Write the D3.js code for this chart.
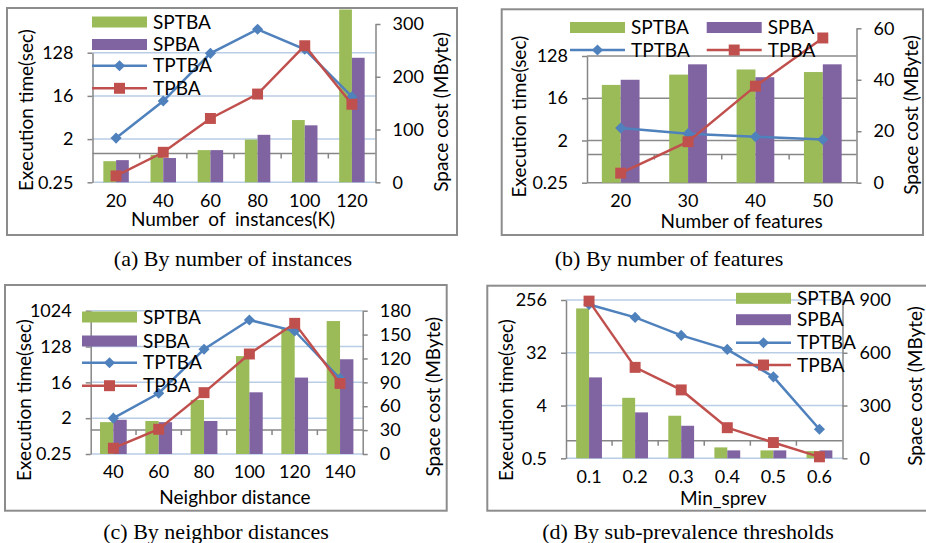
<!DOCTYPE html>
<html>
<head>
<meta charset="utf-8">
<script src="https://cdn.jsdelivr.net/npm/d3@7"></script>
<style>
  body { margin: 0; background: #fff; }
  svg { display: block; }
  text { font-family: Lato, "Open Sans", sans-serif; fill: #000; }
</style>
</head>
<body>
<svg id="fig" width="926" height="543"></svg>
<script>
const COLORS = {SPTBA: "#9bbb59", SPBA: "#8064a2", TPTBA: "#4f81bd", TPBA: "#c0504d"};
const BAR_KEYS = ["SPTBA", "SPBA"];
const LINE_KEYS = ["TPTBA", "TPBA"];

// (a) by number of instances
const instCats = ["20", "40", "60", "80", "100", "120"];
const instSPTBA = [40, 52, 61, 81, 118, 330];
const instSPBA = [42, 46, 61, 90, 108, 236];
const instTPTBA = [2.1, 12.5, 124, 395, 151, 15.4];
const instTPBA = [0.34, 1.06, 5.4, 17.5, 179, 10.7];

// (b) by number of features
const featCats = ["20", "30", "40", "50"];
const featSPTBA = [38, 42, 44, 43];
const featSPBA = [40, 46, 41, 46];
const featTPTBA = [3.7, 2.8, 2.4, 2.1];
const featTPBA = [0.4, 1.88, 29, 311];

// (c) by neighbor distances
const distCats = ["40", "60", "80", "100", "120", "140"];
const distSPTBA = [40, 41.5, 68, 123, 158, 167];
const distSPBA = [43, 40, 41.5, 77.5, 96, 119];
const distTPTBA = [2.0, 8.5, 109, 597, 315, 20];
const distTPBA = [0.35, 1.05, 8.8, 83, 492, 15];

// (d) by sub-prevalence thresholds
const prevCats = ["0.1", "0.2", "0.3", "0.4", "0.5", "0.6"];
const prevSPTBA = [852, 344, 242, 62, 45, 41];
const prevSPBA = [460, 261, 185, 45, 45, 45];
const prevTPTBA = [215, 129, 63.5, 36.5, 12.4, 1.57];
const prevTPBA = [245, 18, 7.4, 1.67, 0.93, 0.53];

// tick labels
const timeTicksA = [0.25, 2, 16, 128];
const timeTicksC = [0.25, 2, 16, 128, 1024];
const timeTicksD = [0.5, 4, 32, 256];
const spaceTicksA = [0, 100, 200, 300];
const spaceTicksB = [0, 20, 40, 60];
const spaceTicksC = [0, 30, 60, 90, 120, 150, 180];
const spaceTicksD = [0, 300, 600, 900];

const PANELS = [
  {
    id: "a", frame: [7, 8, 457, 235],
    plot: {left: 92.5, right: 375.5, bottom: 182.3, top: 9.5}, pad: 0.46,
    cats: instCats, bars: [instSPTBA, instSPBA], lines: [instTPTBA, instTPBA],
    leftTicks: timeTicksA, leftTopY: 52.7, rightTicks: spaceTicksA, rightTopY: 24,
    grid: "#b9cde5", tickY: 201,
    xTitle: "Number  of  instances(K)", xTitleAt: [233, 219.5],
    leftTitleAt: [26.5, 110], rightTitleAt: [441.5, 112],
    caption: "(a) By number of instances", captionAt: [233, 258],
    legend: [["SPTBA", 92, 22], ["SPBA", 92, 44.5], ["TPTBA", 92, 65.7], ["TPBA", 92, 88.3]]
  },
  {
    id: "b", frame: [501.7, 9.3, 923, 235],
    plot: {left: 587, right: 856.5, bottom: 182.7, top: 28}, pad: 0.44,
    cats: featCats, bars: [featSPTBA, featSPBA], lines: [featTPTBA, featTPBA],
    leftTicks: timeTicksA, leftTopY: 56, rightTicks: spaceTicksB, rightTopY: 28.3,
    grid: "#8a8a8a", tickY: 201,
    xTitle: "Number of features", xTitleAt: [741.7, 221],
    leftTitleAt: [519.5, 116.7], rightTitleAt: [911.7, 115],
    caption: "(b) By number of features", captionAt: [669, 258],
    legend: [["SPTBA", 570, 27.5], ["SPBA", 706.7, 27.5], ["TPTBA", 570, 50], ["TPBA", 706.7, 50]]
  },
  {
    id: "c", frame: [5, 285, 446.7, 510.7],
    plot: {left: 90.7, right: 362.7, bottom: 454, top: 305}, pad: 0.41,
    cats: distCats, bars: [distSPTBA, distSPBA], lines: [distTPTBA, distTPBA],
    leftTicks: timeTicksC, leftTopY: 310.7, rightTicks: spaceTicksC, rightTopY: 310.7,
    grid: "#b9cde5", tickY: 471.5,
    xTitle: "Neighbor distance", xTitleAt: [235, 497],
    leftTitleAt: [24.5, 400], rightTitleAt: [433.3, 396.7],
    caption: "(c) By neighbor distances", captionAt: [216, 531],
    legend: [["SPTBA", 82, 317], ["SPBA", 82, 341], ["TPTBA", 82, 362.7], ["TPBA", 82, 385.7]]
  },
  {
    id: "d", frame: [487.3, 285.7, 932, 510.7],
    plot: {left: 566, right: 842.5, bottom: 458.3, top: 295}, pad: 0.44,
    cats: prevCats, bars: [prevSPTBA, prevSPBA], lines: [prevTPTBA, prevTPBA],
    leftTicks: timeTicksD, leftTopY: 300, rightTicks: spaceTicksD, rightTopY: 300,
    grid: "#b9cde5", tickY: 476.5,
    xTitle: "Min_sprev", xTitleAt: [723.3, 498],
    leftTitleAt: [506.5, 400], rightTitleAt: [915, 386],
    caption: "(d) By sub-prevalence thresholds", captionAt: [688, 531],
    legend: [["SPTBA", 736, 298.3], ["SPBA", 736, 319.7], ["TPTBA", 736, 342.7], ["TPBA", 736, 365]]
  }
];

const AXIS_GRAY = "#868686";
const FONT = 19;
const TICK_FONT = 18;

function marker(key) {
  return key === "TPTBA"
    ? d3.symbol(d3.symbolSquare, 62)()
    : d3.symbol(d3.symbolSquare, 120)();
}
function markerRot(key) { return key === "TPTBA" ? " rotate(45)" : ""; }

function drawPanel(svg, p) {
  const P = p.plot;
  const g = svg.append("g");

  g.append("rect")
    .attr("x", p.frame[0]).attr("y", p.frame[1])
    .attr("width", p.frame[2] - p.frame[0]).attr("height", p.frame[3] - p.frame[1])
    .attr("fill", "none").attr("stroke", "#8c8c8c").attr("stroke-width", 2);

  const x0 = d3.scaleBand().domain(p.cats).range([P.left, P.right])
    .paddingInner(p.pad).paddingOuter(p.pad / 2);
  const x1 = d3.scaleBand().domain(BAR_KEYS).range([0, x0.bandwidth()]);
  const cx = c => x0(c) + x0.bandwidth() / 2;
  const yL = d3.scaleLog().base(2)
    .domain([p.leftTicks[0], p.leftTicks[p.leftTicks.length - 1]])
    .range([P.bottom, p.leftTopY]);
  const yR = d3.scaleLinear().domain([0, d3.max(p.rightTicks)]).range([P.bottom, p.rightTopY]);

  // gridlines on the time axis
  g.append("g").selectAll("line").data(p.leftTicks).join("line")
    .attr("x1", P.left).attr("x2", P.right)
    .attr("y1", d => yL(d)).attr("y2", d => yL(d))
    .attr("stroke", p.grid).attr("stroke-width", 1.5);

  // category axis crosses the log axis at 1
  const y1 = yL(1);
  g.append("line").attr("x1", P.left).attr("x2", P.right).attr("y1", y1).attr("y2", y1)
    .attr("stroke", AXIS_GRAY).attr("stroke-width", 1.5);
  const step = x0.step();
  g.append("g").selectAll("line").data(d3.range(1, p.cats.length)).join("line")
    .attr("x1", i => P.left + i * step).attr("x2", i => P.left + i * step)
    .attr("y1", y1).attr("y2", y1 + 5)
    .attr("stroke", AXIS_GRAY).attr("stroke-width", 1.5);

  // bars: space cost
  const clipId = "clip-" + p.id;
  svg.append("clipPath").attr("id", clipId).append("rect")
    .attr("x", P.left - 2).attr("y", P.top)
    .attr("width", P.right - P.left + 4).attr("height", P.bottom - P.top + 1);
  const barData = p.cats.flatMap((c, i) => BAR_KEYS.map((k, j) => ({cat: c, key: k, v: p.bars[j][i]})));
  g.append("g").attr("clip-path", `url(#${clipId})`)
    .selectAll("rect").data(barData).join("rect")
    .attr("x", d => x0(d.cat) + x1(d.key))
    .attr("width", x1.bandwidth())
    .attr("y", d => yR(d.v))
    .attr("height", d => P.bottom - yR(d.v))
    .attr("fill", d => COLORS[d.key]);

  // axes
  const left = g.append("g").attr("transform", `translate(${P.left},0)`)
    .call(d3.axisLeft(yL).tickValues(p.leftTicks).tickFormat(d => String(d))
      .tickSize(5).tickSizeOuter(0).tickPadding(14));
  const right = g.append("g").attr("transform", `translate(${P.right},0)`)
    .call(d3.axisRight(yR).tickValues(p.rightTicks).tickFormat(d => String(d))
      .tickSize(5).tickSizeOuter(0).tickPadding(12));
  [left, right].forEach(ax => {
    ax.select(".domain").attr("stroke", AXIS_GRAY).attr("stroke-width", 1.5);
    ax.selectAll(".tick line").attr("stroke", AXIS_GRAY).attr("stroke-width", 1.5);
    ax.selectAll(".tick text").attr("font-size", TICK_FONT).attr("fill", "#000")
      .attr("font-family", "Lato, sans-serif");
  });

  // category labels
  g.append("g").selectAll("text").data(p.cats).join("text")
    .attr("x", d => cx(d)).attr("y", p.tickY).attr("dy", "0.35em")
    .attr("text-anchor", "middle").attr("font-size", TICK_FONT).text(d => d);

  // lines: execution time
  const line = d3.line().x(d => cx(d.cat)).y(d => yL(d.v));
  LINE_KEYS.forEach((k, j) => {
    const pts = p.cats.map((c, i) => ({cat: c, v: p.lines[j][i]}));
    g.append("path").datum(pts).attr("d", line)
      .attr("fill", "none").attr("stroke", COLORS[k]).attr("stroke-width", 2.5);
    g.append("g").selectAll("path").data(pts).join("path")
      .attr("transform", d => `translate(${cx(d.cat)},${yL(d.v)})${markerRot(k)}`)
      .attr("d", marker(k)).attr("fill", COLORS[k]);
  });

  // legend
  p.legend.forEach(([k, lx, ly]) => {
    const lg = g.append("g").attr("transform", `translate(${lx},${ly})`);
    if (BAR_KEYS.includes(k)) {
      lg.append("rect").attr("x", 0).attr("y", -5.5).attr("width", 55).attr("height", 11)
        .attr("fill", COLORS[k]);
    } else {
      lg.append("line").attr("x1", 0).attr("x2", 55).attr("y1", 0).attr("y2", 0)
        .attr("stroke", COLORS[k]).attr("stroke-width", 2.5);
      lg.append("path").attr("transform", `translate(27.5,0)${markerRot(k)}`)
        .attr("d", marker(k)).attr("fill", COLORS[k]);
    }
    lg.append("text").attr("x", 61).attr("y", 0).attr("dy", "0.35em")
      .attr("font-size", FONT).text(k);
  });

  // titles
  g.append("text").attr("x", p.xTitleAt[0]).attr("y", p.xTitleAt[1]).attr("dy", "0.35em")
    .attr("text-anchor", "middle").attr("font-size", FONT).style("white-space", "pre")
    .text(p.xTitle);
  g.append("text")
    .attr("transform", `translate(${p.leftTitleAt[0]},${p.leftTitleAt[1]}) rotate(-90)`)
    .attr("dy", "0.35em").attr("text-anchor", "middle").attr("font-size", FONT)
    .text("Execution time(sec)");
  g.append("text")
    .attr("transform", `translate(${p.rightTitleAt[0]},${p.rightTitleAt[1]}) rotate(-90)`)
    .attr("dy", "0.35em").attr("text-anchor", "middle").attr("font-size", FONT)
    .text("Space cost (MByte)");
  g.append("text").attr("x", p.captionAt[0]).attr("y", p.captionAt[1]).attr("dy", "0.35em")
    .attr("text-anchor", "middle").attr("font-size", 22)
    .style("font-family", "'Liberation Serif', 'Times New Roman', serif")
    .text(p.caption);
}

const svg = d3.select("#fig");
PANELS.forEach(p => drawPanel(svg, p));
</script>
</body>
</html>
